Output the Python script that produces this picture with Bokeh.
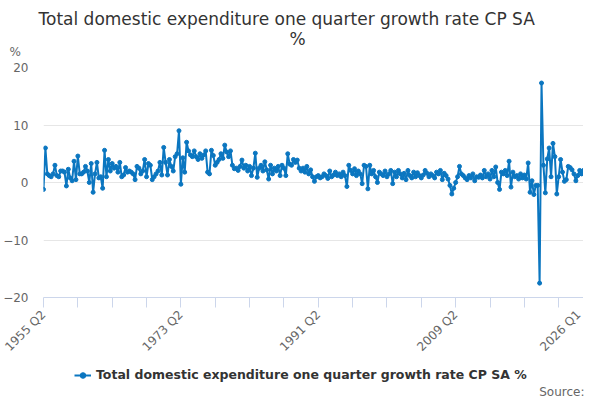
import math

from bokeh.plotting import figure
from bokeh.layouts import column
from bokeh.models import FixedTicker, Legend, LegendItem, Range1d, ColumnDataSource, Title
from bokeh.embed import file_html
from bokeh.resources import INLINE

# quarter labels 1955 Q2 .. 2026 Q1
quarters = [f"{y} Q{q}" for y in range(1955, 2027) for q in range(1, 5)][1:-3]

# one quarter growth rate, % (one row per year)
growth = [
    -1.2, 6.0, 1.5,
    1.2, 1.0, 1.5, 3.0,
    1.2, 1.0, 2.0, 2.0,
    1.8, -0.6, 2.3, 0.8,
    0.3, 3.7, 0.5, 4.6,
    1.5, 1.5, 1.8, 2.8,
    2.0, 0.0, 3.3, -1.7,
    1.5, 3.5, 0.8, 1.0,
    -1.0, 5.6, 1.0, 4.0,
    2.0, 3.3, 2.5, 2.8,
    1.8, 3.5, 1.0, 1.3,
    2.6, 1.8, 2.0, 1.8,
    1.5, 0.5, 2.8, 2.5,
    1.5, 2.0, 4.0, 1.0,
    3.3, 3.0, 0.5, 1.0,
    1.5, 2.0, 3.5, 1.3,
    6.1, 3.5, 1.3, 4.0,
    2.8, 2.0, 4.5, 5.0,
    9.0, -0.3, 4.3, 1.8,
    7.0, 5.5, 4.8, 4.5,
    5.5, 4.5, 4.0, 5.0,
    4.2, 4.8, 5.5, 1.8,
    1.5, 5.6, 4.7, 3.0,
    3.5, 4.0, 5.0, 4.2,
    6.5, 5.3, 4.5, 5.5,
    3.0, 2.4, 2.5, 2.1,
    2.8, 3.9, 2.5, 3.0,
    2.0, 2.8, 1.2, 2.5,
    5.1, 0.9, 2.5, 3.0,
    2.0, 3.6, 2.2, 0.6,
    3.0, 1.5, 2.5, 2.0,
    2.8, 1.2, 3.0, 2.5,
    1.2, 5.0, 3.2, 3.0,
    4.0, 3.5, 3.9, 2.5,
    2.0, 2.5, 1.8, 2.8,
    1.5, 2.2, 1.0, 0.2,
    1.0, 1.2, 0.8, 1.0,
    1.5, 1.2, 0.7, 2.0,
    1.0, 1.3, 1.8, 1.2,
    1.5, 1.0, 1.8, 1.2,
    -0.7, 3.0, 2.1, 1.5,
    2.4, 1.2, 2.0, 1.5,
    -0.2, 3.0, 2.8, -1.1,
    3.0, 1.5, 2.1, 1.0,
    0.0, 1.8, 1.5, 1.2,
    2.0, 1.0, 1.5, 2.1,
    -0.2, 1.8, 1.0, 2.1,
    1.5, 0.8, 1.6, 0.5,
    2.1, 1.2, 0.8, 1.8,
    1.0, 1.7, 1.2, 0.8,
    1.3, 2.1, 1.6, 1.0,
    1.5, 1.2, 0.8, 1.8,
    1.5, 2.1, 0.5, 1.6,
    1.2, 0.6, -0.5, -2.0,
    -1.0, 0.0, 1.0, 2.8,
    1.5, 1.2, 0.8, 0.5,
    1.2, 0.8, 1.5, 0.3,
    1.0, 0.9, 1.3, 0.8,
    2.1, 1.0, 1.5, 0.6,
    2.1, 1.0, 2.7, 0.0,
    -1.2, 1.8, 1.5, 2.1,
    1.2, 3.7, -0.8, 1.8,
    1.0, 1.2, 0.6, 1.5,
    0.8, 1.3, 0.6, 3.4,
    -1.7, 0.3, -2.1, -0.5,
    -0.5, -17.5, 17.3, 3.0,
    -1.8, 4.1, 6.0, 1.0,
    6.8, 4.5, -2.0, 1.0,
    4.0, 1.8, 0.2, 0.5,
    2.8, 2.6, 2.2, 1.5,
    0.3, 1.2, 2.1, 1.5,
    2.1,
]

y_ticks = [-20, -10, 0, 10, 20]
labelled_quarters = ["1955 Q2", "1973 Q2", "1991 Q2", "2009 Q2", "2026 Q1"]

series_name = "Total domestic expenditure one quarter growth rate CP SA %"
blue = "#0b76c0"
font = "DejaVu Sans"

idx = list(range(len(quarters)))
source = ColumnDataSource(data=dict(x=idx, y=growth, q=quarters))

W = 584
H_FOOT = 37

p = figure(
    frame_width=540, frame_height=230,
    output_backend="svg", toolbar_location=None,
    x_range=Range1d(0, len(quarters) - 1), y_range=Range1d(-20, 20),
    min_border_left=35, min_border_right=0, min_border_top=0, min_border_bottom=0,
)
p.outline_line_color = None

# title, first line; second line and the y unit are extra titles
p.title.text = "Total domestic expenditure one quarter growth rate CP SA"
p.title.align = "left"
p.title.offset = -5
p.title.standoff = 12
p.title.text_font = font
p.title.text_font_size = "17px"
p.title.text_font_style = "normal"
p.title.text_color = "#333333"

unit = Title(text="%", align="left", offset=-34, standoff=17, text_font=font,
             text_font_size="12px", text_font_style="normal", text_color="#666666")
p.add_layout(unit, "above")
line2 = Title(text="%", align="left", offset=246, standoff=-28, text_font=font,
              text_font_size="17px", text_font_style="normal", text_color="#333333")
p.add_layout(line2, "above")

# y axis
p.yaxis.ticker = FixedTicker(ticks=y_ticks, minor_ticks=[])
p.yaxis.axis_line_color = None
p.yaxis.major_tick_line_color = None
p.yaxis.major_tick_out = 0
p.yaxis.major_label_standoff = 15
p.yaxis.major_label_text_font = font
p.yaxis.major_label_text_font_size = "12px"
p.yaxis.major_label_text_color = "#666666"
p.ygrid.grid_line_color = "#e6e6e6"
p.xgrid.visible = False

# x axis: tick every 18 quarters, label every 72, plus the last quarter
tick_pos = list(range(0, len(quarters) - 10, 18)) + [len(quarters) - 1]
overrides = {t: (quarters[t] if quarters[t] in labelled_quarters else "") for t in tick_pos}
p.xaxis.ticker = FixedTicker(ticks=tick_pos, minor_ticks=[])
p.xaxis.major_label_overrides = overrides
p.xaxis.major_label_orientation = math.pi / 4
p.xaxis.axis_line_color = "#ccd6eb"
p.xaxis.major_tick_line_color = "#ccd6eb"
p.xaxis.major_tick_in = 0
p.xaxis.major_tick_out = 10
p.xaxis.major_label_text_font = font
p.xaxis.major_label_text_font_size = "12px"
p.xaxis.major_label_text_color = "#666666"

p.line("x", "y", source=source, line_color=blue, line_width=2)
p.scatter("x", "y", source=source, size=4, color=blue)

# footer: legend and source note; its y range lies far above the data,
# so its copies of the series only serve as legend keys
foot = figure(width=W, height=H_FOOT, output_backend="svg", toolbar_location=None,
              x_range=Range1d(0, 1), y_range=Range1d(100, 101),
              x_axis_location=None, y_axis_location=None, min_border=0)
foot.outline_line_color = None
foot.grid.visible = False
key_line = foot.line("x", "y", source=source, line_color=blue, line_width=2)
key_pts = foot.scatter("x", "y", source=source, size=4, color=blue)

legend = Legend(items=[LegendItem(label=series_name, renderers=[key_line, key_pts])],
                location=(31, 0), orientation="horizontal",
                border_line_color=None, background_fill_alpha=0,
                label_text_font=font, label_text_font_size="12.5px",
                label_text_font_style="bold", label_text_color="#333333",
                label_height=14, glyph_height=14, glyph_width=17,
                label_standoff=5, padding=0, margin=0)
foot.add_layout(legend, "center")

note = Title(text="Source:", align="right", offset=0, standoff=0, text_font=font,
             text_font_size="12px", text_font_style="normal", text_color="#666666")
foot.add_layout(note, "below")

layout = column(p, foot, spacing=0)

open("out.html", "w").write(file_html(layout, INLINE))
